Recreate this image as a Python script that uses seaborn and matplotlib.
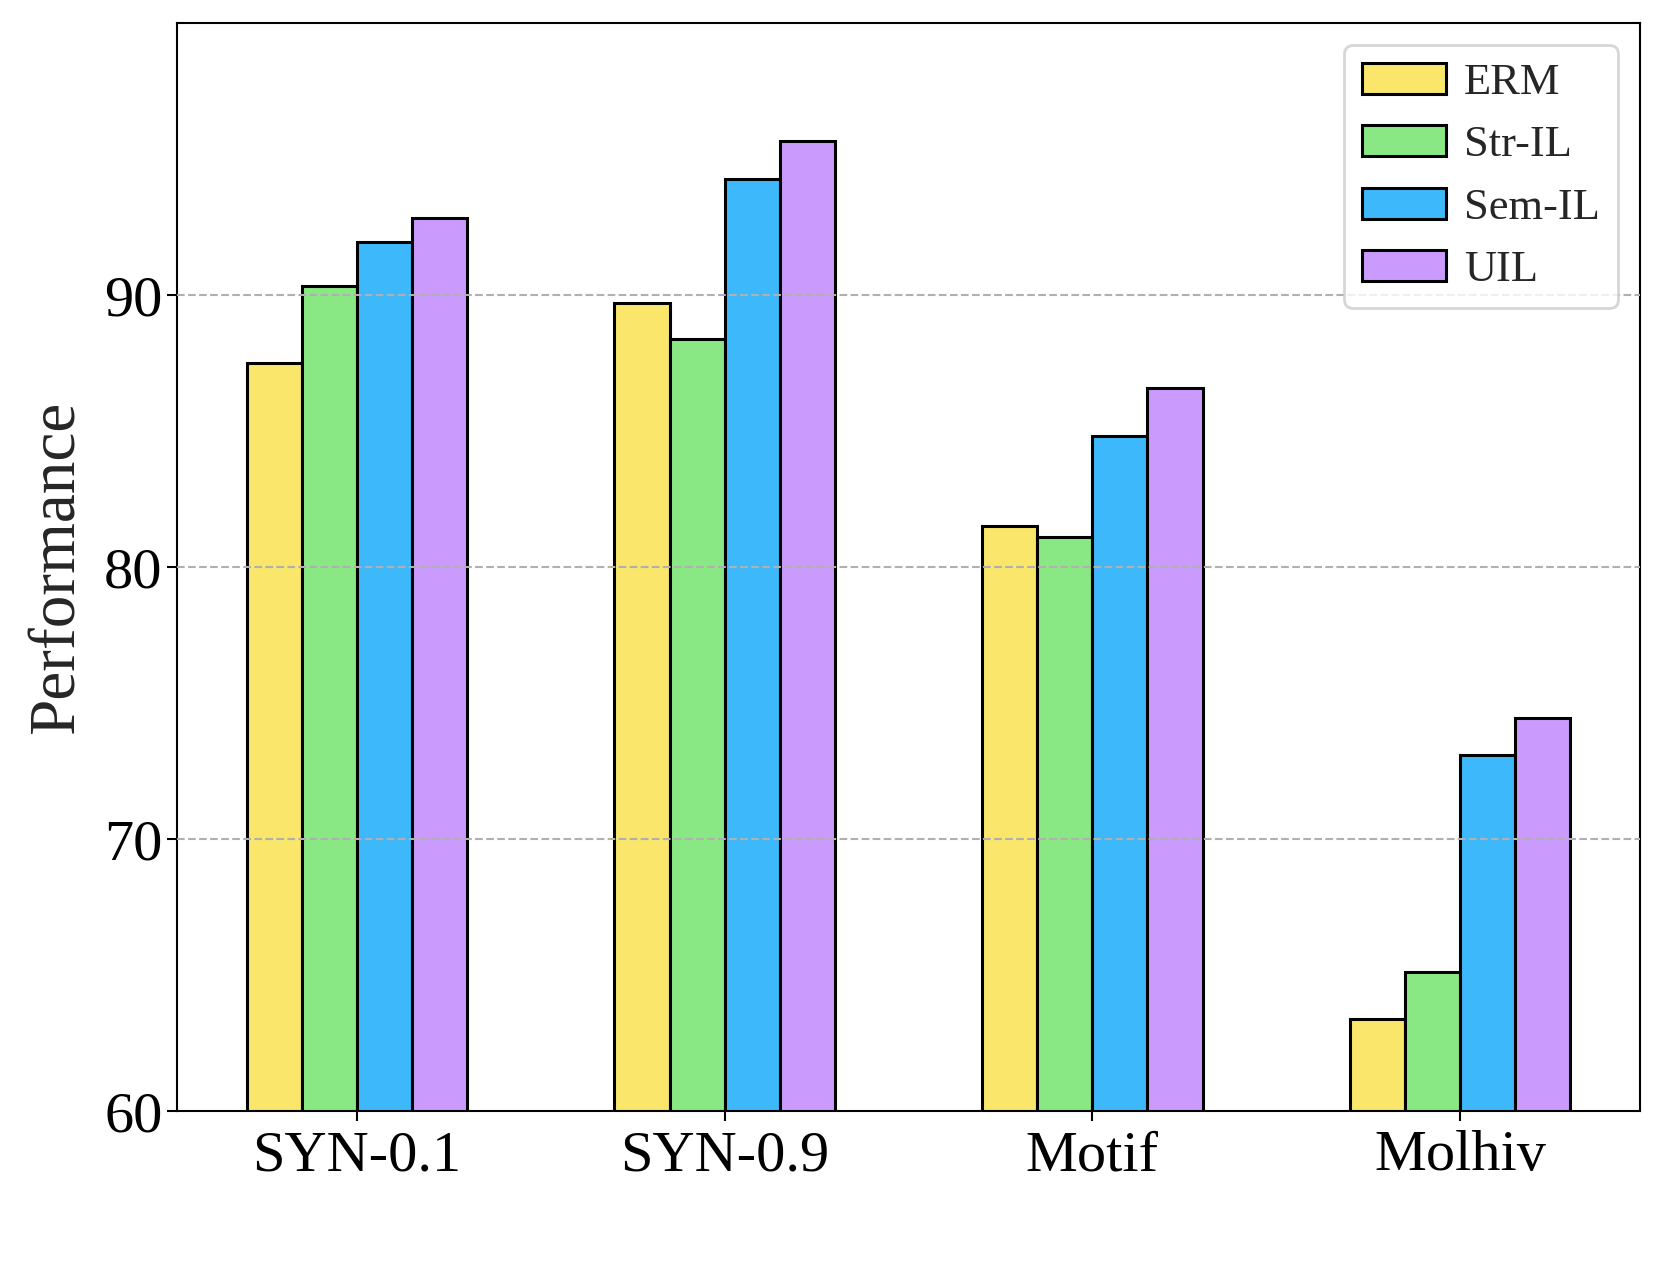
import numpy as np
import pandas as pd
import seaborn as sns
import matplotlib.pyplot as plt

# data
datasets = ['SYN-0.1', 'SYN-0.9', 'Motif', 'Molhiv']
methods = ['ERM', 'Str-IL', 'Sem-IL', 'UIL']
erm = [87.5, 89.7, 81.5, 63.4]
str_il = [90.35, 88.4, 81.1, 65.1]
sem_il = [91.95, 94.25, 84.8, 73.1]
uil = [92.85, 95.65, 86.6, 74.45]
colors = ['#F9E66B', '#8AE884', '#3DB8FB', '#CA9BFC']

rows = []
for m, vals in zip(methods, [erm, str_il, sem_il, uil]):
    for d, v in zip(datasets, vals):
        rows.append({'dataset': d, 'method': m, 'value': v})
df = pd.DataFrame(rows)

# styling
sns.set_style('white')
plt.rcParams['font.family'] = ['Liberation Serif', 'DejaVu Serif']

fig = plt.figure(figsize=(16.62, 12.65), dpi=100)
ax = fig.add_axes([0.1065, 0.1217, 0.8803, 0.8601])

sns.barplot(data=df, x='dataset', y='value', hue='method', palette=colors,
            width=0.6, edgecolor='black', linewidth=2.2, saturation=1, ax=ax)

ax.set_ylim(60, 100)
ax.set_xlim(-0.49, 3.49)
ax.set_yticks([60, 70, 80, 90])
ax.set_xlabel('')
ax.set_ylabel('Performance', fontsize=47, labelpad=12)
ax.tick_params(axis='both', labelsize=42, length=7, width=1.5, direction='out',
               bottom=True, left=True, colors='black')
ax.tick_params(axis='x', pad=7)
for s in ax.spines.values():
    s.set_linewidth(1.5)
    s.set_color('black')

# dashed grid drawn over the bars
for yv in [70, 80, 90]:
    ax.axhline(yv, color='#b0b0b0', linestyle='--', linewidth=1.5, zorder=5)

leg = ax.legend(loc='upper right', fontsize=32, frameon=True, fancybox=True,
                borderaxespad=0.5, handlelength=1.9, handleheight=0.7,
                handletextpad=0.4, labelspacing=0.5)
leg.get_frame().set_edgecolor('#cccccc')
leg.get_frame().set_linewidth(2)
leg.set_zorder(10)

fig.savefig('out.png', dpi=100)
